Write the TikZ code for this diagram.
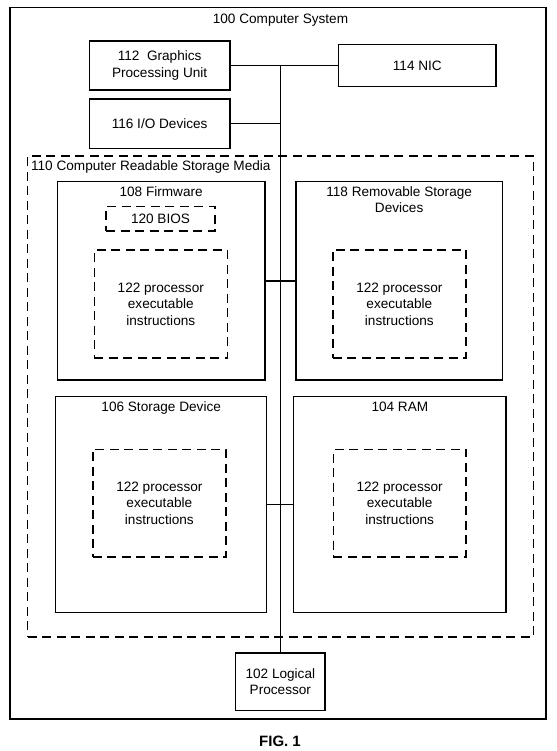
\documentclass[tikz,border=0pt]{standalone}
\usepackage{fontspec}
\setmainfont{Liberation Sans}
\begin{document}
\begin{tikzpicture}[x=1pt,y=-1pt,
  every node/.style={font=\fontsize{13.6}{16.4}\selectfont, inner sep=0pt, align=center},
  box/.style={draw, line width=1.4pt, rectangle},
  dbox/.style={draw, line width=1.6pt, rectangle, dash pattern=on 9pt off 5.5pt},
  conn/.style={line width=1.3pt}]
\useasboundingbox (0,0) rectangle (556,751);
% outer system
\node[box, minimum width=536pt, minimum height=711.5pt] (sys) at (278,363.25) {};
\node[anchor=north] (systxt) at (280.5,13.5) {100 Computer System};
% top devices
\node[box, minimum width=140.7pt, minimum height=49.3pt] (gpu) at (159.65,65.5) {112\ \ Graphics\\Processing Unit};
\node[box, minimum width=157.3pt, minimum height=41.7pt] (nic) at (417.35,65.5) {114 NIC};
\node[box, minimum width=140.7pt, minimum height=49.3pt] (io) at (159.65,123.65) {116 I/O Devices};
% storage media
\node[dbox, minimum width=505.8pt, minimum height=480.7pt] (crsm) at (280.4,396.35) {};
\node[anchor=north west] (crsmtxt) at ([xshift=4.2pt,yshift=-5.6pt]crsm.north west) {110 Computer Readable Storage Media};
% firmware
\node[box, minimum width=207.7pt, minimum height=198.3pt] (fw) at (161.15,280.85) {};
\node[anchor=north] (fwtxt) at ([yshift=-5.4pt]fw.north) {108 Firmware};
\node[dbox, minimum width=109pt, minimum height=24pt] (bios) at (160.5,218.7) {120 BIOS};
\node[dbox, minimum width=133pt, minimum height=108pt] (pf) at (160.8,304) {122 processor\\executable\\instructions};
% removable
\node[box, minimum width=206.3pt, minimum height=198.3pt] (rsd) at (399.15,280.85) {};
\node[anchor=north] (rsdtxt) at ([yshift=-5.4pt]rsd.north) {118 Removable Storage\\Devices};
\node[dbox, minimum width=133.3pt, minimum height=108pt] (pr) at (399.35,304) {122 processor\\executable\\instructions};
% storage device
\node[box, minimum width=211pt, minimum height=215.6pt] (sd) at (161.2,504.5) {};
\node[anchor=north] (sdtxt) at ([yshift=-5.4pt]sd.north) {106 Storage Device};
\node[dbox, minimum width=133.3pt, minimum height=107.4pt] (ps) at (159.35,503) {122 processor\\executable\\instructions};
% RAM
\node[box, minimum width=212.3pt, minimum height=215.6pt] (ram) at (399.85,504.5) {};
\node[anchor=north] (ramtxt) at ([yshift=-5.4pt]ram.north) {104 RAM};
\node[dbox, minimum width=132.7pt, minimum height=107.4pt] (pm) at (399.65,503) {122 processor\\executable\\instructions};
% logical processor
\node[box, minimum width=89.3pt, minimum height=57.7pt] (lp) at (280.35,681.85) {102 Logical\\Processor};
% bus
\coordinate (bustop) at (gpu.east -| lp.north);
\draw[conn] (gpu.east) -- (nic.west);
\draw[conn] (bustop) -- (lp.north);
\draw[conn] (io.east) -- (io.east -| lp.north);
\draw[conn] (fw.east) -- (rsd.west);
\draw[conn] (sd.east) -- (ram.west);
% caption
\node[anchor=base, font=\fontsize{15}{18}\selectfont\bfseries] (fig) at (280,746.5) {FIG. 1};
\end{tikzpicture}
\end{document}
